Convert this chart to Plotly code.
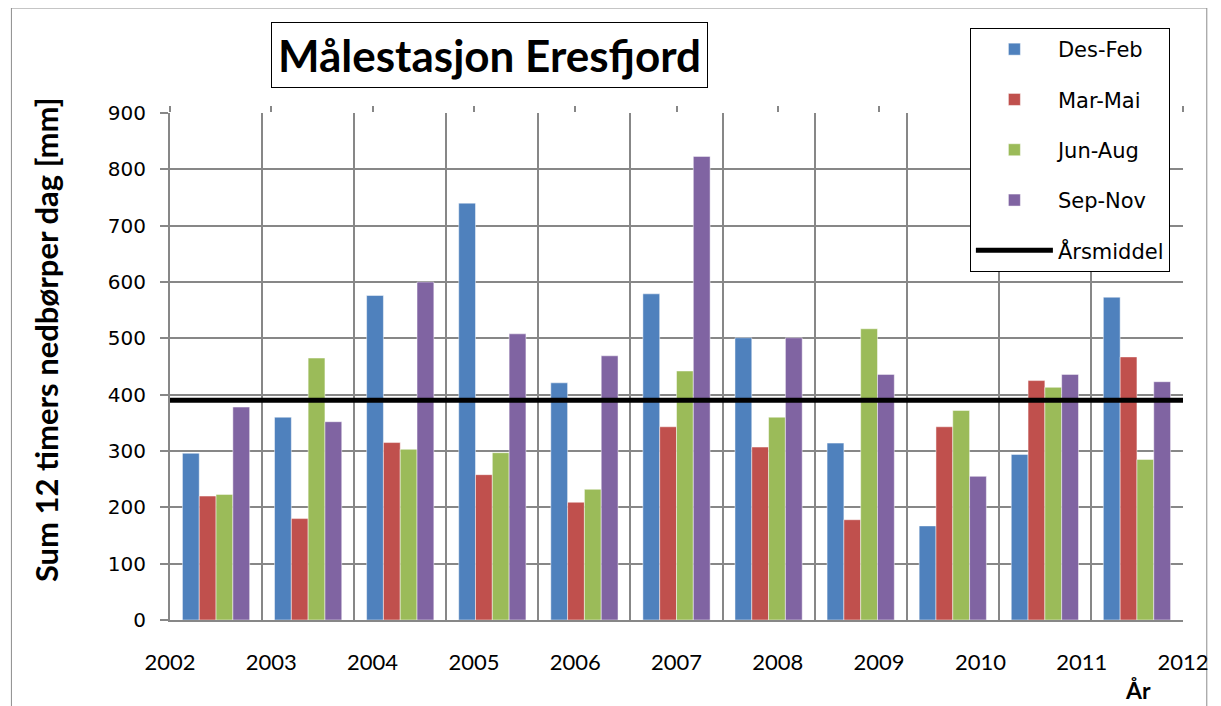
import plotly.graph_objects as go

# ---- data ----
years = [2002, 2003, 2004, 2005, 2006, 2007, 2008, 2009, 2010, 2011, 2012]
year_labels = [str(y) for y in years]
des_feb = [296, 360, 576, 740, 421, 579, 501, 314, 167, 294, 573]
mar_mai = [220, 180, 315, 258, 209, 343, 307, 178, 343, 425, 467]
jun_aug = [223, 465, 303, 297, 232, 442, 360, 517, 372, 413, 285]
sep_nov = [378, 352, 600, 508, 469, 823, 501, 436, 255, 436, 423]
arsmiddel = 390
series_names = ["Des-Feb", "Mar-Mai", "Jun-Aug", "Sep-Nov"]
series_values = [des_feb, mar_mai, jun_aug, sep_nov]
colors = ["#4F81BD", "#C0504D", "#9BBB59", "#8064A2"]

n = len(years)
bar_x = [i + 0.5 for i in range(n)]              # category centres on a 0..n axis
label_pos = [i * n / (n - 1) for i in range(n)]  # secondary-axis year positions

GRID = "#878787"
OFF = 8                       # page body margin
W, H = 1221 - OFF, 706 - OFF
L, R, T, B = 170 - OFF, 29, 113 - OFF, 86
pw, ph = W - L - R, H - T - B

def px(x):
    return (x - OFF - L) / pw

def py(y):
    return (H - B - (y - OFF)) / ph

fig = go.Figure()
for name, vals, col in zip(series_names, series_values, colors):
    fig.add_trace(go.Bar(
        x=bar_x, y=vals, name=name, marker_color=col,
        marker_line_color="rgba(255,255,255,0.6)", marker_line_width=0.8,
        legendgroup=name,
    ))

fig.add_trace(go.Scatter(
    x=years, y=[arsmiddel] * n, mode="lines", name="Årsmiddel",
    line=dict(color="black", width=5), xaxis="x2", legendgroup="mid",
))

fig.update_layout(
    width=W, height=H,
    margin=dict(l=L, r=R, t=T, b=B),
    paper_bgcolor="white", plot_bgcolor="white",
    font=dict(family="DejaVu Sans", color="black", size=20),
    barmode="group", bargap=0.27, bargroupgap=0,
    showlegend=True,
    legend=dict(
        x=px(977), y=py(28), xanchor="left", yanchor="top",
        bordercolor="black", borderwidth=1, bgcolor="white",
        font=dict(family="DejaVu Sans", size=21),
        tracegroupgap=20, itemwidth=77,
    ),
    xaxis=dict(
        range=[0, n], tickvals=label_pos, ticktext=year_labels,
        showgrid=False, ticks="", zeroline=False,
        showline=True, linecolor=GRID, linewidth=2,
        tickfont=dict(family="Lato", size=22),
        ticklabelstandoff=22,
        minor=dict(tickvals=list(range(n + 1)), showgrid=True,
                   gridcolor=GRID, gridwidth=2, ticks=""),
    ),
    xaxis2=dict(
        overlaying="x", side="top", anchor="y",
        range=[years[0], years[-1]], tickvals=years,
        showticklabels=False, ticks="outside", ticklen=6,
        tickcolor=GRID, tickwidth=2, showgrid=False, zeroline=False,
    ),
    yaxis=dict(
        range=[0, 900], dtick=100, showgrid=True, gridcolor=GRID,
        gridwidth=2, zeroline=False, showline=True, linecolor=GRID,
        linewidth=2, ticks="outside", ticklen=8, tickcolor=GRID,
        tickwidth=2, tickfont=dict(family="DejaVu Sans", size=20),
        ticklabelstandoff=10,
    ),
    annotations=[
        dict(text="<b>Målestasjon Eresfjord</b>", xref="paper", yref="paper",
             x=px(492), y=py(55), xanchor="center", yanchor="middle",
             showarrow=False, font=dict(family="Lato", size=44),
             bordercolor="black", borderwidth=1, borderpad=6,
             bgcolor="white"),
        dict(text="<b>Sum 12 timers nedbørper dag [mm]</b>", xref="paper",
             yref="paper", x=px(45), y=py(340), xanchor="center",
             yanchor="middle", textangle=-90, showarrow=False,
             font=dict(family="Lato", size=31)),
        dict(text="<b>År</b>", xref="paper", yref="paper", x=px(1147),
             y=py(690), xanchor="center", yanchor="middle",
             showarrow=False, font=dict(family="Lato", size=23)),
    ],
    shapes=[
        dict(type="rect", xref="paper", yref="paper",
             x0=px(10), x1=px(1216), y0=py(8), y1=py(730),
             line=dict(color="#8c8c8c", width=1), layer="below"),
    ],
)

fig.write_html("out.html")
